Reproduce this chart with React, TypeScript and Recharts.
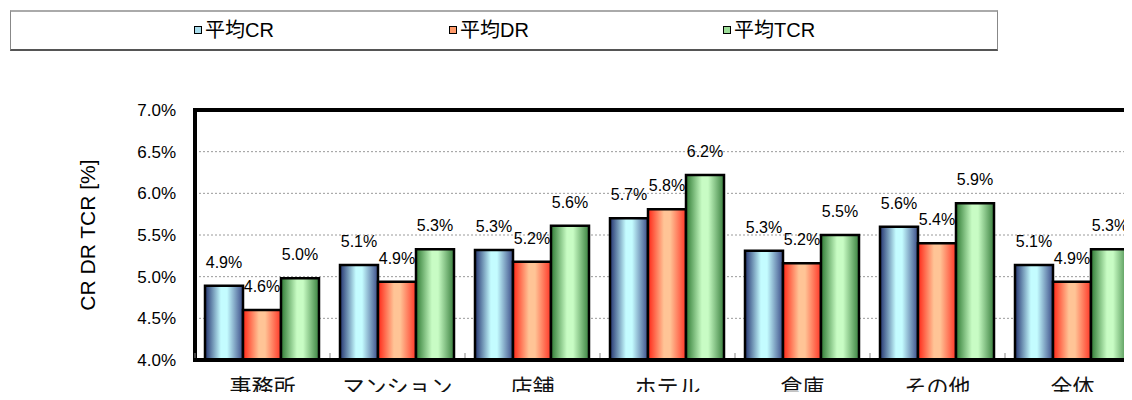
import { BarChart, Bar, XAxis, YAxis, CartesianGrid, ReferenceLine, LabelList, Label } from "recharts";

const categories = ["事務所", "マンション", "店舗", "ホテル", "倉庫", "その他", "全体"];
const avgCR = [4.89, 5.14, 5.32, 5.7, 5.31, 5.6, 5.14];
const avgDR = [4.6, 4.94, 5.18, 5.81, 5.16, 5.4, 4.94];
const avgTCR = [4.98, 5.33, 5.61, 6.22, 5.5, 5.88, 5.33];
const yTicks = [4.0, 4.5, 5.0, 5.5, 6.0, 6.5, 7.0];
const seriesNames = ["平均CR", "平均DR", "平均TCR"];

const LATIN = '"Liberation Sans", Arial, "Noto Sans CJK JP", sans-serif';
const CJK = '"Noto Sans CJK JP", "Liberation Sans", sans-serif';

const chartData = categories.map((name, i) => ({
  name,
  cr: avgCR[i],
  dr: avgDR[i],
  tcr: avgTCR[i],
}));

const pct = (v: any) => `${Number(v).toFixed(1)}%`;

// legend swatch colours + x offset inside the legend box
const legendItems = [
  { key: "cr", swatch: "#a8dcec", left: 183 },
  { key: "dr", swatch: "#ff9a6a", left: 438 },
  { key: "tcr", swatch: "#9cdc98", left: 712 },
];

function ChartLegend() {
  return (
    <div
      style={{
        position: "absolute",
        left: 10,
        top: 10,
        width: 986,
        height: 37,
        borderLeft: "1px solid #888",
        borderRight: "1px solid #888",
        borderTop: "2px solid #aaa",
        borderBottom: "2px solid #555",
        background: "#fff",
        zIndex: 2,
      }}
    >
      {legendItems.map((item, i) => (
        <div
          key={item.key}
          style={{
            position: "absolute",
            left: item.left,
            top: 7,
            display: "flex",
            alignItems: "center",
            fontFamily: LATIN,
            fontSize: 20,
            color: "#000",
            lineHeight: "22px",
          }}
        >
          <span
            style={{
              display: "inline-block",
              width: 6,
              height: 6,
              border: "1.5px solid #000",
              background: item.swatch,
              marginRight: 3,
            }}
          />
          {seriesNames[i]}
        </div>
      ))}
    </div>
  );
}

function CategoryTick({ x, y, payload }: any) {
  const half = payload?.offset ?? 0;
  return (
    <g>
      <line x1={x - half} x2={x - half} y1={y - 7} y2={y - 2} stroke="#888" strokeWidth={1} />
      <text x={x} y={y + 35} textAnchor="middle" fontSize={22} fontFamily={CJK} fill="#111">
        {payload.value}
      </text>
    </g>
  );
}

function Gradient({ id, edgeL, mid, edgeR }: { id: string; edgeL: string; mid: string; edgeR: string }) {
  return (
    <linearGradient id={id} x1="0" y1="0" x2="1" y2="0">
      <stop offset="0%" stopColor={edgeL} />
      <stop offset="42%" stopColor={mid} />
      <stop offset="58%" stopColor={mid} />
      <stop offset="100%" stopColor={edgeR} />
    </linearGradient>
  );
}

export default function App() {
  const labelProps = { position: "top" as const, offset: 18, formatter: pct, fill: "#000", fontSize: 16, fontFamily: LATIN };
  return (
    <div style={{ position: "relative", width: 1132, height: 400, overflow: "hidden", margin: -8, background: "#fff" }}>
      <ChartLegend />
      <BarChart
        width={1150}
        height={400}
        data={chartData}
        margin={{ top: 110, right: 10, bottom: 0, left: 0 }}
        barGap={0}
        barCategoryGap={10}
      >
        <defs>
          <Gradient id="gradCR" edgeL="#23336f" mid="#c4fcff" edgeR="#3c4c88" />
          <Gradient id="gradDR" edgeL="#ff2616" mid="#ffc496" edgeR="#ff3626" />
          <Gradient id="gradTCR" edgeL="#2f7a34" mid="#c8fcc4" edgeR="#3a803f" />
        </defs>
        <CartesianGrid vertical={false} stroke="#9a9a9a" strokeDasharray="2 2" />
        <XAxis
          dataKey="name"
          height={40}
          tickLine={false}
          tickSize={0}
          tickMargin={0}
          interval={0}
          axisLine={{ stroke: "#000", strokeWidth: 4, strokeLinecap: "square" }}
          tick={<CategoryTick />}
        />
        <YAxis
          type="number"
          domain={[4, 7]}
          ticks={yTicks}
          width={195}
          tickLine={false}
          tickSize={0}
          tickMargin={19}
          tickFormatter={pct}
          tick={{ fontSize: 17, fill: "#000", fontFamily: LATIN }}
          axisLine={{ stroke: "#000", strokeWidth: 4, strokeLinecap: "square" }}
        >
          <Label
            value="CR DR TCR [%]"
            angle={-90}
            position="center"
            dx={-10}
            style={{ fontSize: 21, fill: "#000", fontFamily: LATIN }}
          />
        </YAxis>
        <ReferenceLine y={7} stroke="#000" strokeWidth={4} strokeLinecap="square" />
        <Bar dataKey="cr" name={seriesNames[0]} fill="url(#gradCR)" stroke="#000" strokeWidth={2.5} isAnimationActive={false}>
          <LabelList dataKey="cr" {...labelProps} />
        </Bar>
        <Bar dataKey="dr" name={seriesNames[1]} fill="url(#gradDR)" stroke="#000" strokeWidth={2.5} isAnimationActive={false}>
          <LabelList dataKey="dr" {...labelProps} />
        </Bar>
        <Bar dataKey="tcr" name={seriesNames[2]} fill="url(#gradTCR)" stroke="#000" strokeWidth={2.5} isAnimationActive={false}>
          <LabelList dataKey="tcr" {...labelProps} />
        </Bar>
      </BarChart>
    </div>
  );
}
